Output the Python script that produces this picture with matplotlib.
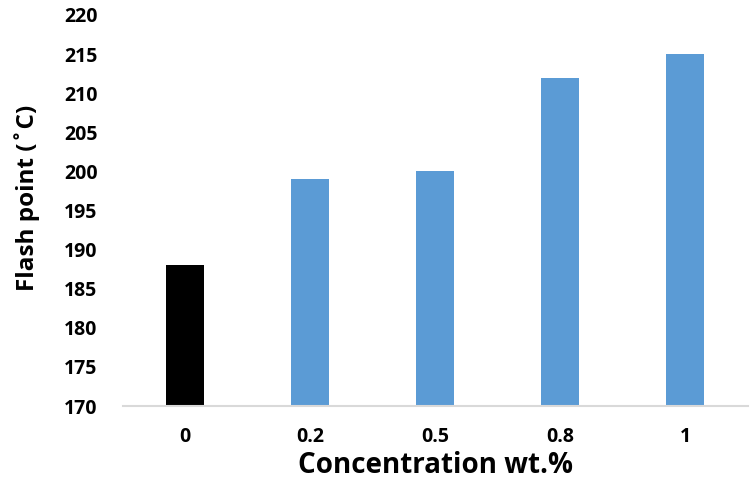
import matplotlib
matplotlib.use("Agg")
import matplotlib.pyplot as plt

plt.rcParams['font.family'] = ['Open Sans', 'DejaVu Sans']

categories = ['0', '0.2', '0.5', '0.8', '1']
flash_point = [188, 199, 200, 212, 215]
colors = ['#000000', '#5B9BD5', '#5B9BD5', '#5B9BD5', '#5B9BD5']

fig = plt.figure(figsize=(7.54, 4.79), dpi=100)
ax = fig.add_axes([0.1625, 0.1524, 0.829, 0.8163])

x = range(len(categories))
ax.bar(x, [v - 170 for v in flash_point], bottom=170, width=0.3, color=colors)

ax.set_xlim(-0.5, len(categories) - 0.5)
ax.set_ylim(170, 220)
ax.set_yticks(range(170, 221, 5))
ax.set_xticks(list(x))
ax.set_xticklabels(categories)

for s in ['top', 'right', 'left']:
    ax.spines[s].set_visible(False)
ax.spines['bottom'].set_color('#D9D9D9')
ax.spines['bottom'].set_linewidth(1.5)
ax.tick_params(axis='both', length=0, labelsize=14)
ax.tick_params(axis='x', pad=15)
ax.tick_params(axis='y', pad=18)
for lab in ax.get_xticklabels() + ax.get_yticklabels():
    lab.set_fontweight('bold')

ax.set_xlabel('Concentration wt.%', fontsize=20, fontweight='bold', labelpad=3)
ax.set_ylabel('Flash point (˚C)', fontsize=17.5, fontweight='bold')
ax.yaxis.set_label_coords(-0.132, 0.532)

fig.savefig('out.png', dpi=100)
